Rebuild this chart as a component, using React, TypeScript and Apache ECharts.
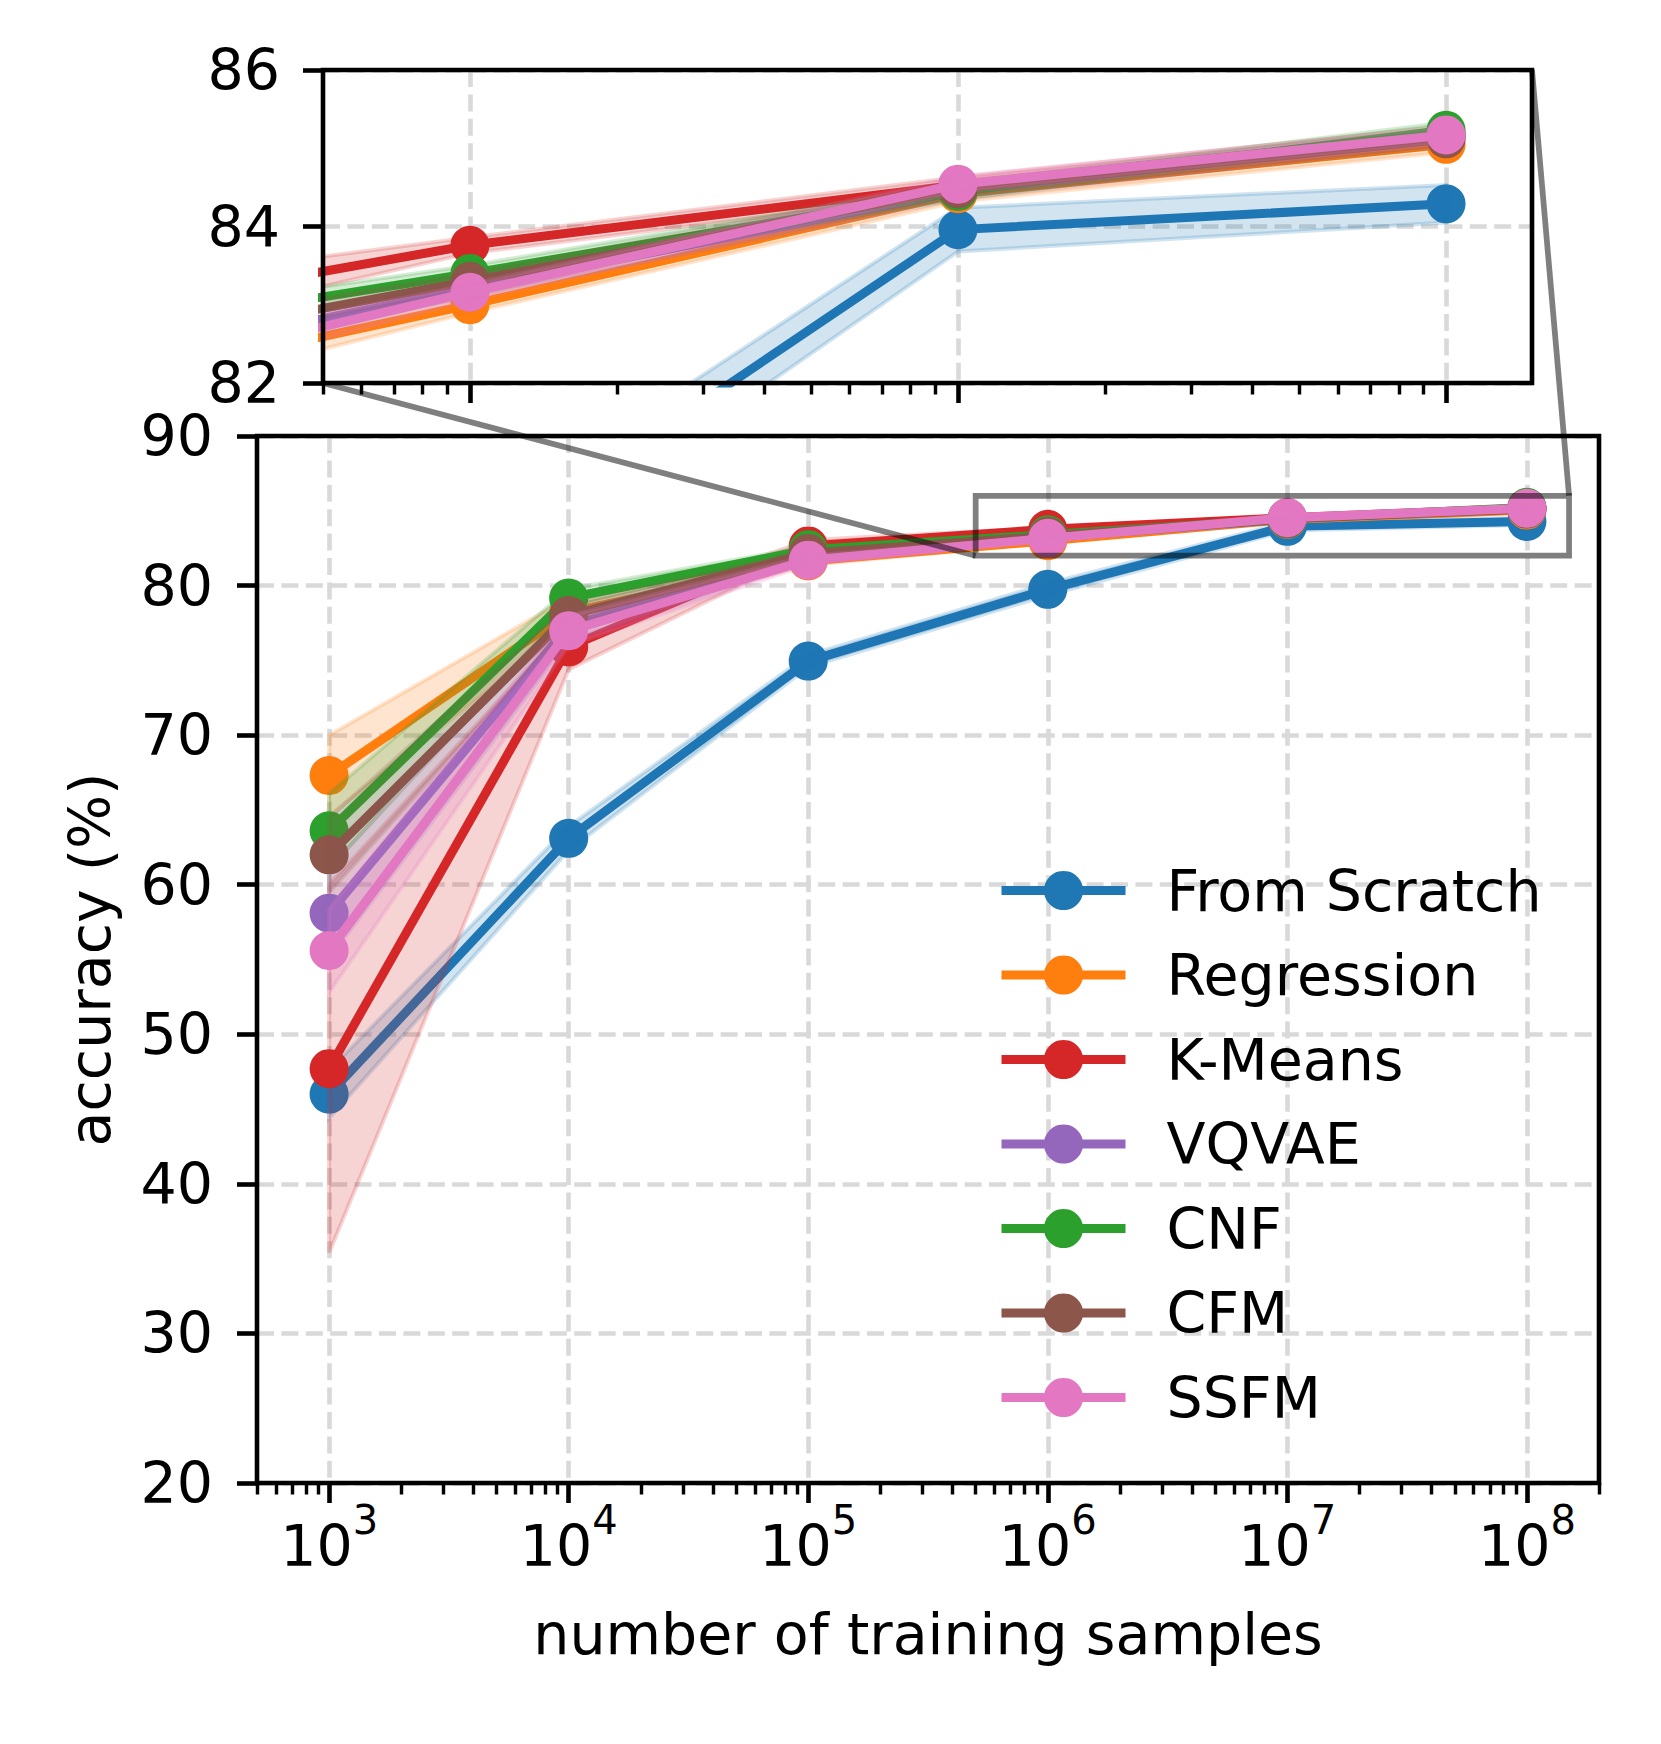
import React, { useEffect, useRef } from 'react';
import * as echarts from 'echarts';

// ---------- data ----------
const N = [1e3, 1e4, 1e5, 1e6, 1e7, 1e8];
const NAMES = ['From Scratch', 'Regression', 'K-Means', 'VQVAE', 'CNF', 'CFM', 'SSFM'];
const COLORS = ['#1f77b4', '#ff7f0e', '#d62728', '#9467bd', '#2ca02c', '#8c564b', '#e377c2'];

const FROM_SCRATCH = [46.0, 63.1, 74.95, 79.75, 83.96, 84.29];
const FROM_SCRATCH_STD = [1.6, 0.8, 0.4, 0.4, 0.28, 0.24];
const REGRESSION = [67.3, 78.2, 81.65, 83.0, 84.42, 85.05];
const REGRESSION_STD = [2.7, 1.0, 0.3, 0.1, 0.1, 0.1];
const KMEANS = [47.7, 75.9, 82.65, 83.76, 84.53, 85.18];
const KMEANS_STD = [12.3, 1.5, 0.4, 0.1, 0.1, 0.1];
const VQVAE = [58.1, 77.3, 81.95, 83.2, 84.45, 85.15];
const VQVAE_STD = [3.0, 1.0, 0.3, 0.1, 0.1, 0.1];
const CNF = [63.6, 79.17, 82.4, 83.4, 84.45, 85.23];
const CNF_STD = [2.5, 0.6, 0.2, 0.1, 0.1, 0.1];
const CFM = [62.0, 78.0, 82.15, 83.3, 84.48, 85.12];
const CFM_STD = [2.5, 0.7, 0.2, 0.1, 0.1, 0.1];
const SSFM = [55.6, 76.98, 81.7, 83.16, 84.54, 85.17];
const SSFM_STD = [2.8, 1.0, 0.3, 0.1, 0.1, 0.1];

const MEANS = [FROM_SCRATCH, REGRESSION, KMEANS, VQVAE, CNF, CFM, SSFM];
const STDS = [FROM_SCRATCH_STD, REGRESSION_STD, KMEANS_STD, VQVAE_STD, CNF_STD, CFM_STD, SSFM_STD];

// ---------- axes ----------
const MAIN_X_RANGE = [500, 2e8];
const INSET_X_RANGE = [5e5, 1.5e8];
const MAIN_Y_RANGE = [20, 90];
const INSET_Y_RANGE = [82, 86];
const MAIN_X_MAJOR = [1e3, 1e4, 1e5, 1e6, 1e7, 1e8];
const INSET_X_MAJOR = [1e6, 1e7, 1e8];
const X_LABEL = 'number of training samples';
const Y_LABEL = 'accuracy (%)';

function minorTicks(lo: number, hi: number): number[] {
  const out: number[] = [];
  for (let e = Math.floor(Math.log10(lo)); e <= Math.ceil(Math.log10(hi)); e++) {
    for (let m = 2; m <= 9; m++) {
      const v = m * Math.pow(10, e);
      if (v >= lo * 0.999 && v <= hi * 1.001) out.push(v);
    }
  }
  return out;
}

const FONT = 'DejaVu Sans';
const FS = 57;
const SPINE = 4.6;
const GRID_LINE = { show: true, lineStyle: { color: '#d9d9d9', width: 4.6, type: [17, 7.4] as any } };

function hexA(hex: string, a: number) {
  const r = parseInt(hex.slice(1, 3), 16), g = parseInt(hex.slice(3, 5), 16), b = parseInt(hex.slice(5, 7), 16);
  return `rgba(${r},${g},${b},${a})`;
}

function buildOption(): any {
  const series: any[] = [];
  for (let g = 0; g < 2; g++) {
    for (let i = 0; i < NAMES.length; i++) {
      const c = COLORS[i];
      series.push({
        type: 'line',
        name: NAMES[i],
        xAxisIndex: g,
        yAxisIndex: g,
        data: N.map((x, k) => [x, MEANS[i][k]]),
        symbol: 'circle',
        symbolSize: 39,
        showAllSymbol: true,
        lineStyle: { width: 9, color: c },
        itemStyle: { color: c },
        clip: true,
        z: 10 + 2 * i,
        silent: true,
        emphasis: { disabled: true },
      });
      series.push({
        type: 'custom',
        name: NAMES[i] + ' std',
        xAxisIndex: g,
        yAxisIndex: g,
        data: [[N[0], MEANS[i][0]]],
        clip: true,
        z: 11 + 2 * i,
        silent: true,
        renderItem: (params: any, api: any) => {
          const m = MEANS[i], s = STDS[i];
          const upper = N.map((x, k) => api.coord([x, m[k] + s[k]]));
          const lower = N.map((x, k) => api.coord([x, m[k] - s[k]])).reverse();
          return {
            type: 'polygon',
            shape: { points: upper.concat(lower) },
            style: { fill: hexA(c, 0.2), stroke: hexA(c, 0.2), lineWidth: 4 },
          };
        },
      });
    }
  }

  const supRich = {
    b: { fontSize: FS, lineHeight: 74, verticalAlign: 'bottom', fontFamily: FONT, color: '#000' },
    s: { fontSize: 40, lineHeight: 40, verticalAlign: 'top', fontFamily: FONT, color: '#000' },
  };

  return {
    animation: false,
    backgroundColor: '#fff',
    textStyle: { fontFamily: FONT, color: '#000' },
    grid: [
      { left: 257, top: 436, width: 1342, height: 1047 },
      { left: 323, top: 70, width: 1209, height: 313 },
    ],
    xAxis: [
      {
        type: 'log', logBase: 10, gridIndex: 0, min: MAIN_X_RANGE[0], max: MAIN_X_RANGE[1],
        axisLine: { show: false },
        axisTick: { show: true, customValues: MAIN_X_MAJOR, length: 20, lineStyle: { color: '#000', width: SPINE } },
        axisLabel: {
          customValues: MAIN_X_MAJOR, margin: 17,
          formatter: (v: number) => `{b|10}{s|${Math.round(Math.log10(v))}}`,
          rich: supRich,
        },
        splitLine: GRID_LINE,
        name: X_LABEL, nameLocation: 'middle', nameGap: 122,
        nameTextStyle: { fontSize: FS, fontFamily: FONT, color: '#000' },
      },
      {
        type: 'log', logBase: 10, gridIndex: 1, min: INSET_X_RANGE[0], max: INSET_X_RANGE[1],
        axisLine: { show: false },
        axisTick: { show: true, customValues: INSET_X_MAJOR, length: 20, lineStyle: { color: '#000', width: SPINE } },
        axisLabel: { show: false },
        splitLine: GRID_LINE,
      },
      {
        type: 'log', logBase: 10, gridIndex: 0, min: MAIN_X_RANGE[0], max: MAIN_X_RANGE[1], position: 'bottom',
        axisLine: { show: false },
        axisTick: { show: true, customValues: minorTicks(MAIN_X_RANGE[0], MAIN_X_RANGE[1]), length: 11.5, lineStyle: { color: '#000', width: 3.45 } },
        axisLabel: { show: false },
        splitLine: { show: false },
      },
      {
        type: 'log', logBase: 10, gridIndex: 1, min: INSET_X_RANGE[0], max: INSET_X_RANGE[1], position: 'bottom',
        axisLine: { show: false },
        axisTick: { show: true, customValues: minorTicks(INSET_X_RANGE[0], INSET_X_RANGE[1]), length: 11.5, lineStyle: { color: '#000', width: 3.45 } },
        axisLabel: { show: false },
        splitLine: { show: false },
      },
    ],
    yAxis: [
      {
        type: 'value', gridIndex: 0, min: MAIN_Y_RANGE[0], max: MAIN_Y_RANGE[1], interval: 10,
        axisLine: { show: false },
        axisTick: { show: true, length: 20, lineStyle: { color: '#000', width: SPINE } },
        axisLabel: { fontSize: FS, fontFamily: FONT, color: '#000', margin: 44 },
        splitLine: GRID_LINE,
        name: Y_LABEL, nameLocation: 'middle', nameGap: 139, nameRotate: 90,
        nameTextStyle: { fontSize: FS, fontFamily: FONT, color: '#000' },
      },
      {
        type: 'value', gridIndex: 1, min: INSET_Y_RANGE[0], max: INSET_Y_RANGE[1], interval: 2,
        axisLine: { show: false },
        axisTick: { show: true, length: 20, lineStyle: { color: '#000', width: SPINE } },
        axisLabel: { fontSize: FS, fontFamily: FONT, color: '#000', margin: 43 },
        splitLine: GRID_LINE,
      },
    ],
    legend: {
      orient: 'vertical', left: 992, top: 857,
      itemWidth: 124, itemHeight: 49, itemGap: 27.5,
      selectedMode: false,
      data: NAMES,
      lineStyle: { width: 9 },
      textStyle: { fontSize: FS, fontFamily: FONT, color: '#000', padding: [0, 0, 0, 36] },
    },
    series,
  };
}

export default function App() {
  const ref = useRef<HTMLDivElement>(null);
  useEffect(() => {
    document.body.style.margin = '0';
    if (!ref.current) return;
    const chart = echarts.init(ref.current, undefined, { renderer: 'svg' });
    chart.setOption(buildOption());

    const px = (xi: number, yi: number, v: number[]) =>
      chart.convertToPixel({ xAxisIndex: xi, yAxisIndex: yi } as any, v) as number[];
    const mTL = px(0, 0, [MAIN_X_RANGE[0], MAIN_Y_RANGE[1]]);
    const mBR = px(0, 0, [MAIN_X_RANGE[1], MAIN_Y_RANGE[0]]);
    const iTL = px(1, 1, [INSET_X_RANGE[0], INSET_Y_RANGE[1]]);
    const iBR = px(1, 1, [INSET_X_RANGE[1], INSET_Y_RANGE[0]]);
    const rTL = px(0, 0, [INSET_X_RANGE[0], INSET_Y_RANGE[1]]);
    const rBR = px(0, 0, [INSET_X_RANGE[1], INSET_Y_RANGE[0]]);
    const zoomStroke = 'rgba(0,0,0,0.5)';
    const frame = (a: number[], b: number[]) => ({
      type: 'rect', silent: true, z: 100,
      shape: { x: a[0], y: a[1], width: b[0] - a[0], height: b[1] - a[1] },
      style: { fill: 'none', stroke: '#000', lineWidth: SPINE },
    });
    chart.setOption({
      graphic: [
        frame(mTL, mBR),
        frame(iTL, iBR),
        {
          type: 'rect', silent: true, z: 90,
          shape: { x: rTL[0], y: rTL[1], width: rBR[0] - rTL[0], height: rBR[1] - rTL[1] },
          style: { fill: 'none', stroke: zoomStroke, lineWidth: 5.75 },
        },
        {
          type: 'line', silent: true, z: 90,
          shape: { x1: iTL[0], y1: iBR[1], x2: rTL[0], y2: rBR[1] },
          style: { stroke: zoomStroke, lineWidth: 5.75 },
        },
        {
          type: 'line', silent: true, z: 90,
          shape: { x1: iBR[0], y1: iTL[1], x2: rBR[0], y2: rTL[1] },
          style: { stroke: zoomStroke, lineWidth: 5.75 },
        },
      ],
    });
    return () => chart.dispose();
  }, []);
  return <div ref={ref} style={{ width: 1661, height: 1744 }} />;
}
